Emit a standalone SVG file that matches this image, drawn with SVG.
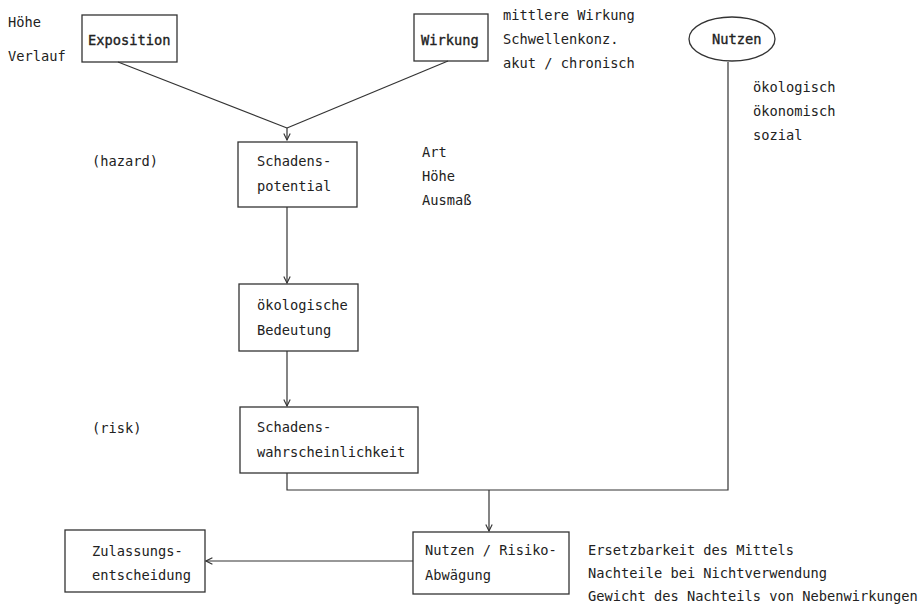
<svg xmlns="http://www.w3.org/2000/svg" width="920" height="606" viewBox="0 0 920 606">
<defs>
<style>
text{font-family:"DejaVu Sans Mono","Liberation Mono",monospace;font-size:13.7px;fill:#222}
.hd{stroke:#222;stroke-width:0.35px}
.box{fill:none;stroke:#333;stroke-width:1.3}
.con{fill:none;stroke:#333;stroke-width:1.2}
</style>
<marker id="arr" viewBox="0 0 10 10" refX="9" refY="5" markerWidth="8" markerHeight="8" markerUnits="userSpaceOnUse" orient="auto">
<path d="M1,1 L9,5 L1,9" fill="none" stroke="#333" stroke-width="1.4"/>
</marker>
</defs>
<rect width="920" height="606" fill="#fff"/>

<g id="connectors">
<polyline class="con" points="118,62 287,128"/>
<polyline class="con" points="448,61 287,128"/>
<line class="con" x1="287" y1="128" x2="287" y2="140" marker-end="url(#arr)"/>
<line class="con" x1="287" y1="207" x2="287" y2="283" marker-end="url(#arr)"/>
<line class="con" x1="287" y1="351" x2="287" y2="406" marker-end="url(#arr)"/>
<polyline class="con" points="287,473 287,490 728,490 728,62"/>
<line class="con" x1="489" y1="490" x2="489" y2="531" marker-end="url(#arr)"/>
<line class="con" x1="413" y1="561" x2="206" y2="561" marker-end="url(#arr)"/>
</g>

<g id="exposition">
<rect class="box" x="82" y="15" width="95" height="47"/>
<text class="hd" x="88" y="45">Exposition</text>
</g>
<g id="exposition-notes">
<text x="8" y="27">Höhe</text>
<text x="8" y="61">Verlauf</text>
</g>

<g id="wirkung">
<rect class="box" x="414" y="14" width="74" height="47"/>
<text class="hd" x="421" y="45">Wirkung</text>
</g>
<g id="wirkung-notes">
<text x="503" y="20">mittlere Wirkung</text>
<text x="503" y="44">Schwellenkonz.</text>
<text x="503" y="68">akut / chronisch</text>
</g>

<g id="nutzen">
<ellipse class="box" cx="732" cy="39" rx="43" ry="22"/>
<text class="hd" x="712" y="44">Nutzen</text>
</g>
<g id="nutzen-notes">
<text x="753" y="92">ökologisch</text>
<text x="753" y="116">ökonomisch</text>
<text x="753" y="140">sozial</text>
</g>

<g id="schadenspotential">
<rect class="box" x="238" y="142" width="119" height="65"/>
<text x="257" y="166">Schadens-</text>
<text x="257" y="191">potential</text>
</g>
<g id="hazard-notes">
<text x="92" y="166">(hazard)</text>
<text x="422" y="157">Art</text>
<text x="422" y="181">Höhe</text>
<text x="422" y="205">Ausmaß</text>
</g>

<g id="oekologische-bedeutung">
<rect class="box" x="239" y="284" width="119" height="67"/>
<text x="257" y="310">ökologische</text>
<text x="257" y="335">Bedeutung</text>
</g>

<g id="schadenswahrscheinlichkeit">
<rect class="box" x="240" y="407" width="178" height="66"/>
<text x="257" y="432">Schadens-</text>
<text x="257" y="457">wahrscheinlichkeit</text>
</g>
<g id="risk-note">
<text x="92" y="433">(risk)</text>
</g>

<g id="abwaegung">
<rect class="box" x="413" y="532" width="156" height="62"/>
<text x="425" y="555">Nutzen / Risiko-</text>
<text x="425" y="580">Abwägung</text>
</g>
<g id="abwaegung-notes">
<text x="588" y="555">Ersetzbarkeit des Mittels</text>
<text x="588" y="578">Nachteile bei Nichtverwendung</text>
<text x="588" y="601">Gewicht des Nachteils von Nebenwirkungen</text>
</g>

<g id="zulassung">
<rect class="box" x="65" y="530" width="140" height="62"/>
<text x="92" y="556">Zulassungs-</text>
<text x="92" y="580">entscheidung</text>
</g>
</svg>
